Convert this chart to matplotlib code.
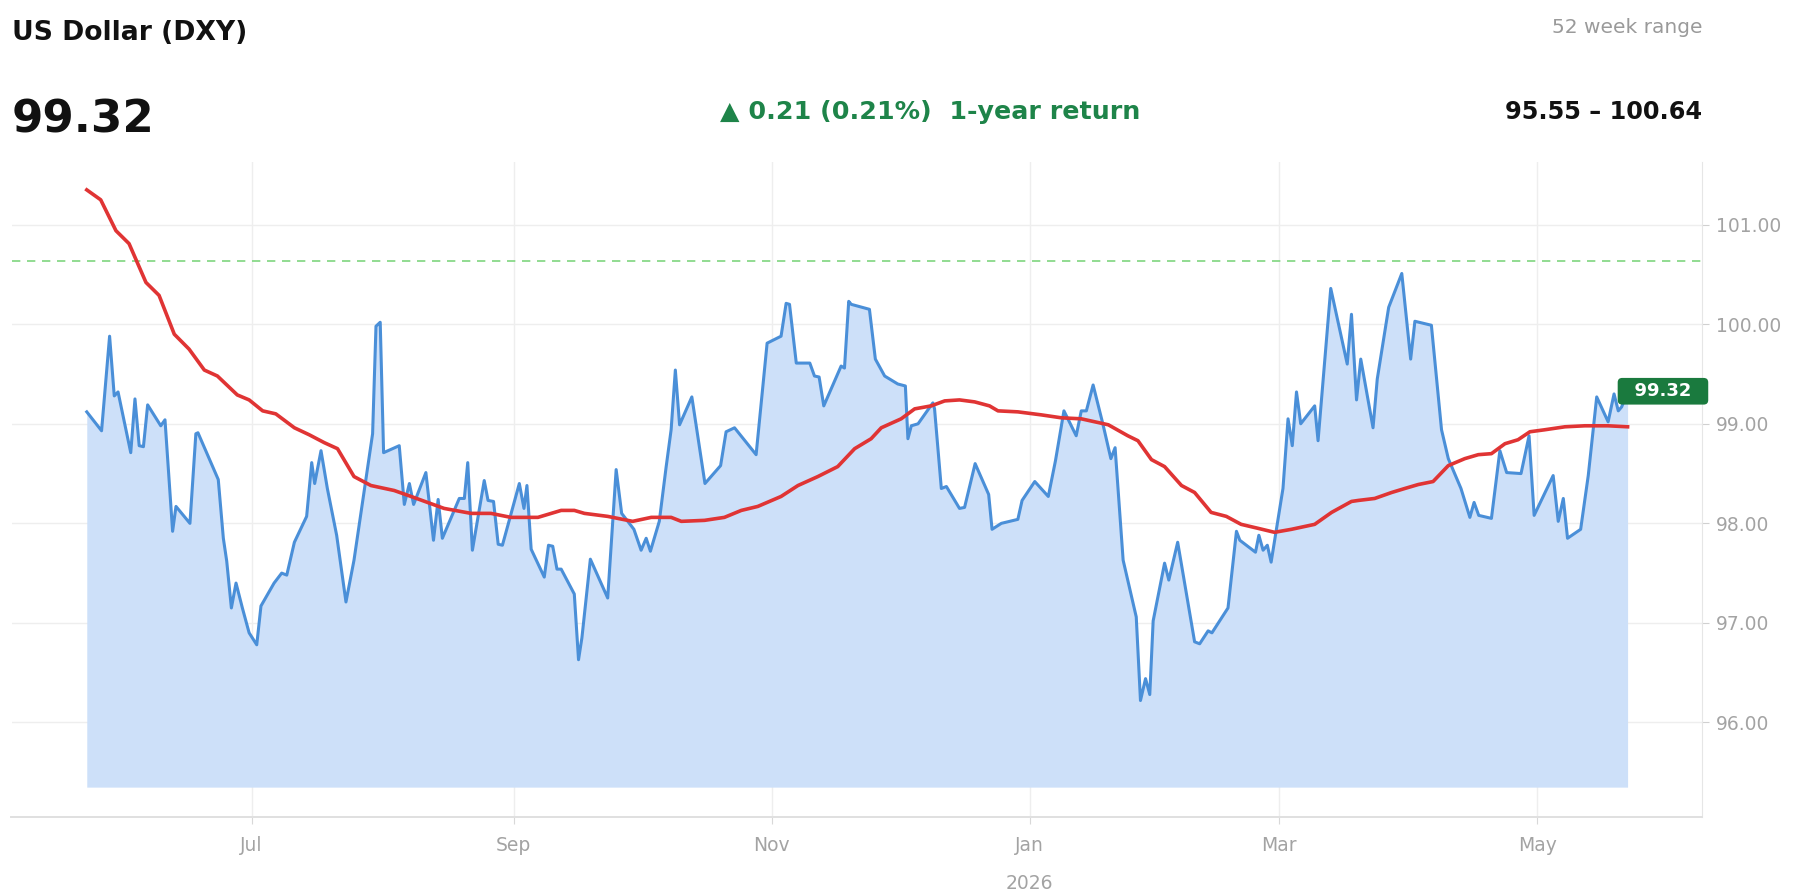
import matplotlib
matplotlib.use("Agg")
import matplotlib.pyplot as plt
import matplotlib.dates as mdates
import pandas as pd

# DXY close, vertices as (days since 2025-05-23, level)
price_day = [0.0, 3.5, 5.4, 6.5, 7.4, 10.4, 11.4, 12.4, 13.4, 14.4,
             17.5, 18.5, 20.3, 21.1, 24.4, 25.8, 26.3, 31.1, 32.3, 33.1,
             34.2, 35.3, 36.8, 38.4, 40.2, 41.2, 44.3, 46.1, 47.3, 49.1,
             52.0, 53.2, 53.9, 55.4, 56.9, 59.1, 61.3, 63.2, 65.8, 67.6,
             68.4, 69.4, 70.2, 73.9, 75.1, 76.3, 77.3, 80.2, 82.0, 83.1,
             84.1, 88.1, 89.3, 90.1, 91.2, 94.0, 94.9, 96.2, 97.3, 98.3,
             102.3, 103.4, 104.1, 105.1, 108.2, 109.2, 110.2, 111.2, 112.2, 115.3,
             116.3, 117.1, 119.1, 123.2, 125.2, 126.5, 129.4, 131.1, 132.3, 133.3,
             135.4, 137.0, 138.2, 139.2, 140.2, 143.1, 146.2, 149.9, 151.2, 153.2,
             158.3, 160.9, 164.2, 165.4, 166.2, 167.8, 171.0, 172.1, 173.2, 174.3,
             178.4, 179.2, 180.2, 180.8, 185.1, 186.5, 188.7, 191.8, 193.6, 194.2,
             195.0, 196.6, 200.1, 200.5, 202.1, 203.3, 206.4, 207.6, 210.1, 213.3,
             214.1, 216.3, 220.2, 221.2, 224.2, 227.4, 229.1, 231.1, 234.0, 235.2,
             236.4, 238.0, 240.3, 242.2, 243.2, 245.1, 248.2, 249.2, 250.4, 251.4,
             252.2, 254.9, 255.9, 258.0, 262.0, 263.2, 265.2, 266.1, 269.9, 271.9,
             272.7, 276.4, 277.2, 278.2, 279.2, 280.1, 282.9, 284.1, 285.1, 286.1,
             287.1, 290.4, 291.2, 294.2, 298.1, 299.1, 300.3, 301.3, 304.2, 305.2,
             307.9, 311.0, 313.1, 314.1, 318.0, 320.4, 322.0, 325.0, 327.1, 328.1,
             329.2, 332.2, 334.2, 335.8, 339.2, 341.1, 342.3, 346.8, 348.0, 349.2,
             350.2, 353.3, 355.1, 357.1, 359.8, 361.2, 362.2, 363.0, 364.4]
price = [99.12, 98.93, 99.88, 99.28, 99.32, 98.71, 99.25, 98.78, 98.77, 99.19,
         98.98, 99.04, 97.92, 98.17, 98.00, 98.90, 98.91, 98.44, 97.85, 97.62,
         97.15, 97.40, 97.15, 96.90, 96.78, 97.17, 97.40, 97.50, 97.48, 97.81,
         98.07, 98.61, 98.40, 98.73, 98.35, 97.88, 97.21, 97.63, 98.38, 98.90,
         99.98, 100.02, 98.71, 98.78, 98.19, 98.40, 98.19, 98.51, 97.83, 98.24,
         97.85, 98.25, 98.25, 98.61, 97.73, 98.43, 98.23, 98.22, 97.79, 97.78,
         98.40, 98.15, 98.38, 97.74, 97.46, 97.78, 97.77, 97.54, 97.54, 97.29,
         96.63, 96.85, 97.64, 97.25, 98.54, 98.10, 97.94, 97.73, 97.85, 97.72,
         98.02, 98.56, 98.94, 99.54, 98.99, 99.27, 98.40, 98.58, 98.92, 98.96,
         98.69, 99.81, 99.88, 100.21, 100.20, 99.61, 99.61, 99.48, 99.47, 99.18,
         99.58, 99.56, 100.23, 100.20, 100.15, 99.65, 99.48, 99.40, 99.38, 98.85,
         98.98, 99.00, 99.21, 99.15, 98.35, 98.37, 98.15, 98.16, 98.60, 98.29,
         97.94, 98.00, 98.04, 98.23, 98.42, 98.27, 98.63, 99.13, 98.88, 99.13,
         99.13, 99.39, 99.00, 98.65, 98.76, 97.63, 97.06, 96.22, 96.44, 96.28,
         97.02, 97.60, 97.43, 97.81, 96.81, 96.79, 96.92, 96.90, 97.15, 97.92,
         97.83, 97.71, 97.88, 97.73, 97.78, 97.61, 98.35, 99.05, 98.78, 99.32,
         99.00, 99.18, 98.83, 100.36, 99.60, 100.10, 99.24, 99.65, 98.96, 99.45,
         100.17, 100.51, 99.65, 100.03, 99.99, 98.94, 98.65, 98.35, 98.06, 98.21,
         98.08, 98.05, 98.73, 98.51, 98.50, 98.88, 98.08, 98.48, 98.02, 98.25,
         97.85, 97.94, 98.48, 99.27, 99.02, 99.30, 99.13, 99.17, 99.32]

# moving average
ma_day = [0.0, 3.3, 6.9, 10.0, 14.0, 17.1, 20.7, 24.2, 27.8, 30.9,
          35.6, 38.4, 41.6, 44.7, 49.1, 52.6, 56.2, 59.3, 63.2, 67.2,
          72.7, 76.7, 80.6, 84.5, 90.9, 95.6, 100.3, 106.7, 112.2, 115.3,
          117.7, 123.2, 129.1, 133.5, 138.2, 140.6, 146.1, 150.8, 154.8, 158.7,
          164.2, 168.2, 172.9, 177.6, 181.6, 185.5, 187.9, 192.6, 195.8, 199.7,
          202.9, 206.4, 210.0, 213.5, 215.5, 220.2, 225.7, 230.5, 235.2, 238.4,
          241.6, 246.2, 248.6, 251.8, 254.9, 258.9, 262.0, 265.9, 269.5, 273.0,
          277.0, 280.9, 284.9, 290.4, 294.4, 299.1, 300.7, 304.6, 308.6, 311.7,
          314.9, 318.4, 322.0, 325.9, 329.1, 332.2, 335.4, 338.5, 341.3, 344.8,
          349.6, 354.3, 359.8, 364.4]
ma = [101.35, 101.25, 100.94, 100.81, 100.42, 100.29, 99.90, 99.75, 99.54, 99.48,
      99.29, 99.24, 99.13, 99.10, 98.96, 98.89, 98.81, 98.75, 98.47, 98.38,
      98.33, 98.27, 98.21, 98.15, 98.10, 98.10, 98.06, 98.06, 98.13, 98.13,
      98.10, 98.07, 98.02, 98.06, 98.06, 98.02, 98.03, 98.06, 98.13, 98.17,
      98.27, 98.38, 98.47, 98.57, 98.75, 98.85, 98.96, 99.05, 99.15, 99.18,
      99.23, 99.24, 99.22, 99.18, 99.13, 99.12, 99.09, 99.06, 99.05, 99.02,
      98.99, 98.88, 98.83, 98.64, 98.57, 98.38, 98.31, 98.11, 98.07, 97.99,
      97.95, 97.91, 97.94, 97.99, 98.11, 98.22, 98.23, 98.25, 98.31, 98.35,
      98.39, 98.42, 98.58, 98.65, 98.69, 98.70, 98.80, 98.84, 98.92, 98.94,
      98.97, 98.98, 98.98, 98.97]

last_price = 99.32
change = 0.21
change_pct = 0.21
low_52 = 95.55
high_52 = 100.64
y_ticks = [96, 97, 98, 99, 100, 101]
fill_floor = 95.35

start = pd.Timestamp("2025-05-23")
dates = start + pd.to_timedelta(price_day, unit="D")
ma_dates = start + pd.to_timedelta(ma_day, unit="D")

W, H = 1798, 894
fig = plt.figure(figsize=(W / 100, H / 100), dpi=100)
ax = fig.add_axes([11.5 / W, 1 - 816.5 / H, (1702 - 11.5) / W, (816.5 - 162) / H])

ax.fill_between(dates, price, fill_floor, color="#cde0f9", lw=0, zorder=1)
ax.plot(dates, price, color="#4a8fd8", lw=2.2, zorder=3)
ax.plot(ma_dates, ma, color="#e03434", lw=2.6, zorder=4)
ax.axhline(high_52, color="#7fd67f", lw=1.2, ls=(0, (5, 4)), zorder=2)

ax.set_xlim(start - pd.Timedelta(days=17.8), start + pd.Timedelta(days=382))
ax.set_ylim(95.055, 101.63)

ax.xaxis.set_major_locator(mdates.MonthLocator(bymonth=[1, 3, 5, 7, 9, 11]))
ax.xaxis.set_major_formatter(mdates.DateFormatter("%b"))
ax.yaxis.tick_right()
ax.set_yticks(y_ticks)
ax.set_yticklabels([f"{v:.2f}" for v in y_ticks])

ax.grid(True, color="#eeeeee", lw=1, zorder=0)
ax.set_axisbelow(True)
for side in ["top", "left"]:
    ax.spines[side].set_visible(False)
ax.spines["right"].set_color("#e6e6e6")
ax.spines["bottom"].set_color("#e0e0e0")
ax.spines["bottom"].set_linewidth(1.4)
ax.tick_params(axis="y", length=5, color="#d0d0d0", labelcolor="#a3a3a3",
               labelsize=13.5, pad=5)
ax.tick_params(axis="x", length=5, color="#d8d8d8", labelcolor="#a3a3a3",
               labelsize=13.5, pad=9)

ax.text(pd.Timestamp("2026-01-01"), -0.102, "2026", transform=ax.get_xaxis_transform(),
        ha="center", va="center", fontsize=13.5, color="#a3a3a3")

# last price badge
ax.annotate(f"  {last_price:.2f}  ", (dates[-1], last_price), xytext=(-4, 0.5),
            textcoords="offset points", ha="left", va="center",
            fontsize=13, fontweight="bold", color="white", zorder=6,
            annotation_clip=False,
            bbox=dict(boxstyle="round,pad=0.24,rounding_size=0.25", fc="#1a7a3e", ec="none"))

# header
fig.text(11.5 / W, 1 - 33 / H, "US Dollar (DXY)", fontsize=19.2, fontweight="bold",
         va="center", ha="left", color="#111111")
fig.text(11.5 / W, 1 - 120 / H, f"{last_price:.2f}", fontsize=32.5, fontweight="bold",
         va="center", ha="left", color="#111111")
fig.text(930 / W, 1 - 112 / H, f"▲ {change:.2f} ({change_pct:.2f}%)  1-year return",
         fontsize=18.3, fontweight="bold", va="center", ha="center", color="#1e8449")
fig.text(1702 / W, 1 - 27.5 / H, "52 week range", fontsize=14.5, va="center",
         ha="right", color="#9a9a9a")
fig.text(1702 / W, 1 - 112 / H, f"{low_52:.2f} – {high_52:.2f}", fontsize=17.3,
         fontweight="bold", va="center", ha="right", color="#111111")

fig.savefig("out.png", dpi=100, facecolor="white")
